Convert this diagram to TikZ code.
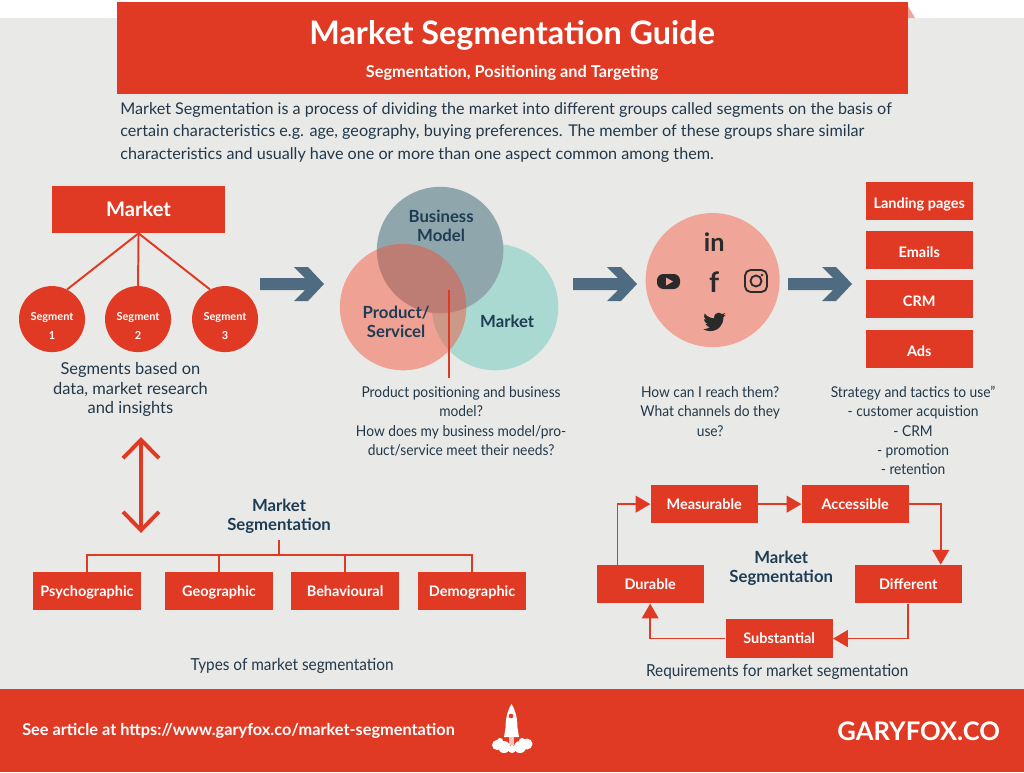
\documentclass[tikz,border=0pt]{standalone}
\usepackage{fontspec}
\setmainfont{Lato}
\newfontfamily\narrowfont[FakeStretch=.925]{Lato}
\usetikzlibrary{arrows.meta}
\definecolor{brandred}{HTML}{E03A24}
\definecolor{paper}{HTML}{E9EAE7}
\definecolor{ink}{HTML}{1F3C55}
\definecolor{copyink}{HTML}{22384A}
\definecolor{slate}{HTML}{4E6B82}
\definecolor{icon}{HTML}{2A2A2A}
\definecolor{salmon}{HTML}{F0A599}
\begin{document}
\begin{tikzpicture}[x=.025cm, y=-.025cm,
	redbox/.style={
		rectangle, fill=brandred, text=white, inner sep=0pt,
		minimum width=2.675cm, minimum height=.96cm, text height=7.4pt, text depth=0pt,
		font=\fontsize{10.3}{12}\selectfont\bfseries},
	stackbox/.style={redbox, text height=10.2pt},
	segcircle/.style={circle, fill=brandred, inner sep=0pt, minimum size=1.65cm},
	seglabel/.style={text=white, inner sep=0pt, font=\fontsize{7.8}{13.6}\selectfont\bfseries, align=center},
	venn/.style={circle, inner sep=0pt, minimum size=3.16cm, draw=none},
	copy/.style={text=copyink, inner sep=0pt, align=center, font=\fontsize{10.6}{13.8}\narrowfont},
	caption/.style={copy, font=\fontsize{11.8}{13.9}\narrowfont},
	heading/.style={text=ink, inner sep=0pt, align=center, font=\fontsize{11.9}{13.7}\selectfont\bfseries},
	redline/.style={draw=brandred, line width=1.1pt},
	flow/.style={redline, -{Triangle[length=.37cm, width=.42cm]}},
	bigarrow/.pic={
		\fill[slate] (0,-6) -- (45,-6) -- (34,-17) -- (48,-17) -- (64,0) -- (48,17) -- (34,17) -- (45,6) -- (0,6) -- cycle;
	}]
	\useasboundingbox (0,0) rectangle (1024,772);
	\fill[white] (0,0) rectangle (1024,772);
	\fill[paper] (0,18) rectangle (1024,689);
	\fill[salmon] (908,6) -- (915,18) -- (908,18) -- cycle;

	\node[rectangle, fill=brandred, inner sep=0pt, minimum width=19.775cm, minimum height=2.3cm, xshift=12.8125cm, yshift=-1.2cm] (header) {};
	\node[text=white, inner sep=0pt, font=\fontsize{23}{26}\selectfont\bfseries, xshift=12.8cm, yshift=-.88cm] (title) {Market Segmentation Guide};
	\node[text=white, inner sep=0pt, font=\fontsize{11.6}{13}\selectfont\bfseries, xshift=12.8cm, yshift=-1.82cm] (subtitle) {Segmentation, Positioning and Targeting};
	\node[copy, align=left, anchor=west, font=\fontsize{11.5}{16}\selectfont, xshift=3cm, yshift=-3.3cm] (intro) {Market Segmentation is a process of dividing the market into different groups called segments on the basis of\\certain characteristics e.g. age, geography, buying preferences. The member of these groups share similar\\characteristics and usually have one or more than one aspect common among them.};

	\node[redbox, minimum width=4.325cm, minimum height=1.175cm, text height=10.2pt, font=\fontsize{14.3}{16}\selectfont\bfseries, xshift=3.4625cm, yshift=-5.2375cm] (market) {Market};
	\node[segcircle, xshift=1.3cm, yshift=-7.975cm] (seg1) {};
	\node[segcircle, xshift=3.45cm, yshift=-7.975cm] (seg2) {};
	\node[segcircle, xshift=5.625cm, yshift=-7.975cm] (seg3) {};
	\node[seglabel, xshift=1.3cm, yshift=-8.14cm] (seg1label) {Segment\\1};
	\node[seglabel, xshift=3.45cm, yshift=-8.14cm] (seg2label) {Segment\\2};
	\node[seglabel, xshift=5.625cm, yshift=-8.14cm] (seg3label) {Segment\\3};
	\draw[redline, line width=1.4pt] (market.south) -- (seg1.63);
	\draw[redline, line width=1.4pt] (market.south) -- (seg2.north);
	\draw[redline, line width=1.4pt] (market.south) -- (seg3.117);
	\node[copy, font=\fontsize{11.7}{13.9}\selectfont, xshift=3.26cm, yshift=-9.74cm] (segtext) {Segments based on\\data, market research\\and insights};

	\pic at (260,284) {bigarrow};
	\pic at (573,284) {bigarrow};
	\pic at (788,284) {bigarrow};

	\node[venn, fill={rgb,255:red,169;green,217;blue,208}, xshift=12.375cm, yshift=-7.675cm] (vmarket) {};
	\node[venn, fill={rgb,255:red,143;green,166;blue,172}, xshift=11cm, yshift=-6.25cm] (vbusiness) {};
	\node[venn, fill={rgb,255:red,247;green,76;blue,49}, fill opacity=.45, xshift=10.075cm, yshift=-7.675cm] (vproduct) {};
	\node[heading, xshift=11.025cm, yshift=-5.64cm] (vbusinesslabel) {Business\\Model};
	\node[heading, xshift=9.9cm, yshift=-8.04cm] (vproductlabel) {Product/\\Servicel};
	\node[heading, xshift=12.675cm, yshift=-8.025cm] (vmarketlabel) {Market};
	\coordinate (venntop) at (449,290);
	\coordinate (vennend) at (449,378);
	\draw[redline] (venntop) -- (vennend);
	\node[copy, xshift=11.525cm, yshift=-10.53cm] (venntext) {Product positioning and business\\model?\\How does my business model/pro-\\duct/service meet their needs?};

	\node[circle, fill=salmon, inner sep=0pt, minimum size=3.35cm, xshift=17.8125cm, yshift=-7cm] (social) {};
	\node[text=icon, inner sep=0pt, font=\fontsize{18}{20}\selectfont\bfseries, xshift=17.85cm, yshift=-6.05cm] (linkedin) {in};
	\node[text=icon, inner sep=0pt, font=\fontsize{20}{22}\selectfont\bfseries, xshift=17.85cm, yshift=-7.05cm] (facebook) {f};
	\fill[icon, rounded corners=1.6mm] (657,274) rectangle (680,289);
	\fill[salmon] (666,277.5) -- (673,281.5) -- (666,285.5) -- cycle;
	\draw[icon, line width=1.3pt, rounded corners=1.4mm] (745,270) rectangle (767,292);
	\draw[icon, line width=1.3pt] (756,281) circle (5.5);
	\fill[icon] (762,275) circle (1.4);
	\begin{scope}[shift={(703,310.5)}, scale=.95]
		\fill[icon] (23.95,4.57) -- (21.13,5.35) -- (23.29,2.62) -- (20.16,3.8) .. controls (18.3,1.8) and (15,1.7) .. (13.2,3.6) .. controls (11.9,4.9) and (11.4,6.7) .. (11.78,8.29) .. controls (7.7,8.1) and (4.07,6.13) .. (1.64,3.16) .. controls (.4,5.3) and (1.1,8.3) .. (3.16,9.73) -- (.93,9.12) .. controls (.93,11.4) and (2.7,13.5) .. (4.88,13.95) -- (2.67,14.03) .. controls (3.3,16) and (5.2,17.4) .. (7.27,17.45) .. controls (5.5,18.8) and (3.3,19.55) .. (1.17,19.55) -- (0,19.49) .. controls (2.2,20.9) and (4.9,21.7) .. (7.56,21.7) .. controls (16.6,21.7) and (21.56,14.2) .. (21.56,7.7) -- (21.54,7.07) .. controls (22.5,6.4) and (23.3,5.5) .. (23.95,4.57) -- cycle;
	\end{scope}
	\node[copy, xshift=17.75cm, yshift=-10.28cm] (socialtext) {How can I reach them?\\What channels do they\\use?};

	\node[stackbox, xshift=22.975cm, yshift=-5.025cm] (landing) {Landing pages};
	\node[stackbox, xshift=22.975cm, yshift=-6.25cm] (emails) {Emails};
	\node[stackbox, xshift=22.975cm, yshift=-7.475cm] (crm) {CRM};
	\node[stackbox, xshift=22.975cm, yshift=-8.725cm] (ads) {Ads};
	\node[copy, xshift=22.82cm, yshift=-10.76cm] (tactics) {Strategy and tactics to use”\\- customer acquistion\\- CRM\\- promotion\\- retention};

	\coordinate (uptip) at (141,437);
	\coordinate (downtip) at (141,533);
	\draw[draw=brandred, line width=2.8pt, {Straight Barb[length=.46cm, width=.9cm]}-{Straight Barb[length=.46cm, width=.9cm]}] (uptip) -- (downtip);

	\node[heading, xshift=6.975cm, yshift=-12.91cm] (typesheading) {Market\\Segmentation};
	\node[redbox, minimum width=2.7cm, xshift=2.175cm, yshift=-14.775cm] (psycho) {Psychographic};
	\node[redbox, minimum width=2.7cm, xshift=5.475cm, yshift=-14.775cm] (geo) {Geographic};
	\node[redbox, minimum width=2.7cm, xshift=8.625cm, yshift=-14.775cm] (behave) {Behavioural};
	\node[redbox, minimum width=2.7cm, xshift=11.8cm, yshift=-14.775cm] (demo) {Demographic};
	\coordinate (trunktop) at (279,540);
	\coordinate (trunkjoin) at (279,555);
	\draw[redline] (trunktop) -- (trunkjoin);
	\draw[redline] (trunkjoin) -| (psycho);
	\draw[redline] (trunkjoin) -| (geo);
	\draw[redline] (trunkjoin) -| (behave);
	\draw[redline] (trunkjoin) -| (demo);
	\node[caption, xshift=7.3cm, yshift=-16.65cm] (typestext) {Types of market segmentation};

	\node[redbox, xshift=17.6cm, yshift=-12.6cm] (measurable) {Measurable};
	\node[redbox, xshift=21.375cm, yshift=-12.6cm] (accessible) {Accessible};
	\node[redbox, xshift=16.25cm, yshift=-14.6cm] (durable) {Durable};
	\node[redbox, xshift=22.7cm, yshift=-14.6cm] (different) {Different};
	\node[redbox, xshift=19.475cm, yshift=-15.96cm] (substantial) {Substantial};
	\draw[flow] ([xshift=-.8125cm]durable.north) |- (measurable);
	\draw[flow] (measurable) -- (accessible);
	\draw[flow] (accessible) -| ([xshift=.8125cm]different.north);
	\draw[flow] (different.south) |- (substantial);
	\draw[flow] (substantial) -| (durable.south);
	\node[heading, xshift=19.525cm, yshift=-14.21cm] (reqheading) {Market\\Segmentation};
	\node[caption, xshift=19.425cm, yshift=-16.8cm] (reqtext) {Requirements for market segmentation};

	\node[rectangle, fill=brandred, inner sep=0pt, minimum width=25.6cm, minimum height=2.075cm, anchor=north west, yshift=-17.225cm] (footer) {};
	\node[text=white, inner sep=0pt, anchor=west, font=\fontsize{11.6}{13}\selectfont\bfseries, xshift=.55cm, yshift=-18.275cm] (article) {See article at https://www.garyfox.co/market-segmentation};
	\node[text=white, inner sep=0pt, anchor=east, font=\fontsize{18.2}{21}\selectfont\bfseries, xshift=25cm, yshift=-18.275cm] (brand) {GARYFOX.CO};
	\fill[white] (511.5,704) .. controls (507,711) and (505.5,720) .. (505.5,728) -- (504,737) -- (519,737) -- (517.5,728) .. controls (517.5,720) and (516,711) .. (511.5,704) -- cycle;
	\fill[brandred] (511,716) circle (2.3);
	\fill[white!70!brandred] (509,737) rectangle (514,745);
	\fill[white] (497,745) circle (5) (504,747) circle (6) (500,741) circle (3) (512,749) circle (4) (520,747) circle (6) (527,744) circle (5.5) (522,741) circle (3);
\end{tikzpicture}
\end{document}
